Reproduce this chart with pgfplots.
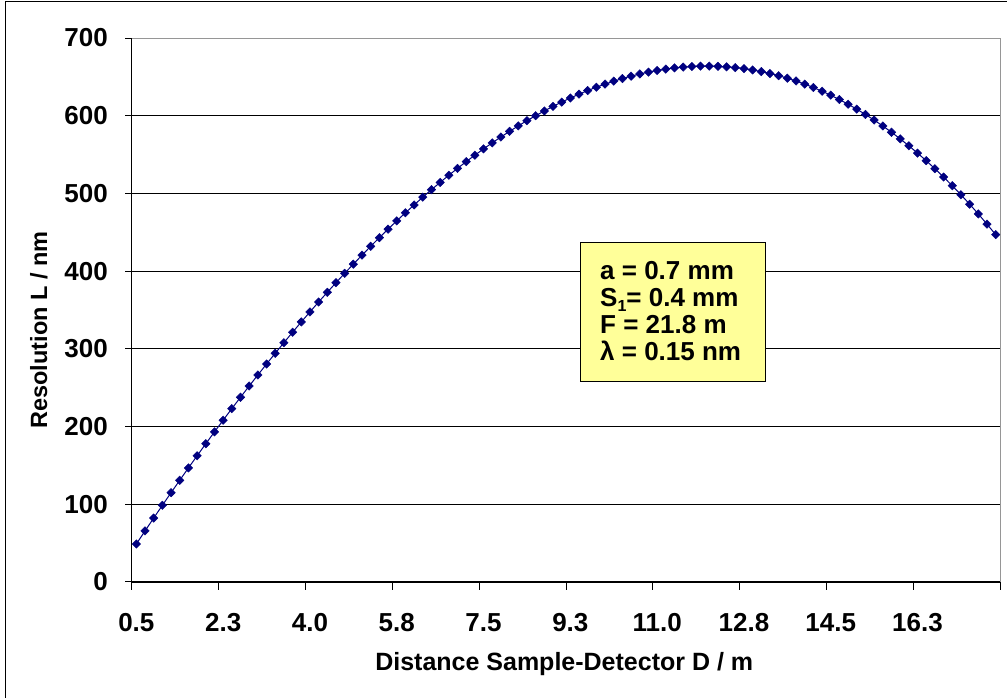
\documentclass[border=0pt]{standalone}
\usepackage{pgfplots}
\usepackage{pgfplotstable}
\pgfplotsset{compat=1.18}
\usepackage{fontspec}
\setmainfont{Liberation Sans}
\definecolor{navy}{RGB}{0,0,128}
\definecolor{boxyellow}{RGB}{255,255,153}
\definecolor{areagray}{RGB}{150,150,150}
% i = category index, D = 0.5 + 0.175 i  (m), L = resolution (nm)
\pgfplotstableread{
i L
0 48.9
1 65.7
2 82.3
3 98.7
4 114.9
5 130.9
6 146.8
7 162.4
8 177.9
9 193.1
10 208.2
11 223.1
12 237.7
13 252.2
14 266.4
15 280.5
16 294.3
17 307.9
18 321.4
19 334.6
20 347.5
21 360.3
22 372.8
23 385.1
24 397.2
25 409.0
26 420.6
27 432.0
28 443.1
29 454.0
30 464.7
31 475.1
32 485.2
33 495.2
34 504.8
35 514.2
36 523.4
37 532.2
38 540.9
39 549.2
40 557.3
41 565.1
42 572.6
43 579.9
44 586.9
45 593.6
46 600.0
47 606.1
48 612.0
49 617.5
50 622.8
51 627.7
52 632.4
53 636.7
54 640.7
55 644.4
56 647.8
57 650.9
58 653.7
59 656.1
60 658.2
61 660.0
62 661.5
63 662.6
64 663.3
65 663.8
66 663.8
67 663.5
68 662.9
69 661.9
70 660.6
71 658.9
72 656.8
73 654.3
74 651.5
75 648.3
76 644.7
77 640.7
78 636.3
79 631.5
80 626.4
81 620.8
82 614.8
83 608.4
84 601.6
85 594.4
86 586.8
87 578.7
88 570.2
89 561.3
90 551.9
91 542.1
92 531.8
93 521.1
94 509.9
95 498.3
96 486.2
97 473.6
98 460.5
99 447.0
}\resdata
\begin{document}
\begin{tikzpicture}
\useasboundingbox (0,0) rectangle (1007pt,698pt);
\fill[white] (0,0) rectangle (1007pt,698pt);
\draw[black, line width=1pt] (5pt,0pt) -- (5pt,696pt) -- (1007pt,696pt);
\begin{axis}[
  at={(132pt,116pt)}, anchor=south west,
  scale only axis, width=868pt, height=544pt,
  xmin=-0.5, xmax=99.5, ymin=0, ymax=700,
  ytick={0,100,...,700},
  xtick={0,10,...,90},
  xticklabels={0.5,2.3,4.0,5.8,7.5,9.3,11.0,12.8,14.5,16.3},
  minor xtick={-0.5,9.5,...,99.5},
  xtick pos=bottom, ytick pos=left,
  tick align=outside,
  major tick length=7pt, minor tick length=8pt,
  major x tick style={draw=none},
  minor x tick style={black, line width=1pt},
  major y tick style={black, line width=1pt},
  ymajorgrids, grid style={black, line width=0.8pt},
  axis line style={areagray, line width=1pt},
  /pgf/number format/assume math mode=true,
  ticklabel style={font=\fontsize{26}{30}\selectfont\bfseries, inner sep=0pt},
  yticklabel style={anchor=east, xshift=-17pt},
  xticklabel style={anchor=north, yshift=-24pt},
  xlabel={Distance Sample-Detector D / m},
  xlabel style={font=\fontsize{25}{30}\selectfont\bfseries, at={(axis description cs:0.498,-0.1636)}, anchor=base, inner sep=0pt},
  ylabel={Resolution L / nm},
  ylabel style={font=\fontsize{23.5}{28}\selectfont\bfseries, at={(axis description cs:-0.0979,0.463)}, anchor=base, inner sep=0pt},
  clip=false,
]
\addplot[navy, line width=1pt, mark=square*, mark size=3pt,
  mark options={rotate=45, fill=navy, draw=navy, line width=0.4pt}]
  table[x=i, y=L] {\resdata};
\draw[black, line width=1pt] (rel axis cs:0,0) -- (rel axis cs:0,1);
\draw[black, line width=1pt] (rel axis cs:0,0) -- (rel axis cs:1,0);
\end{axis}
\draw[black, line width=1pt, fill=boxyellow] (580pt,316pt) rectangle (765pt,455pt);
\begin{scope}[every node/.style={anchor=base west, inner sep=0pt, font=\fontsize{26}{30}\selectfont\bfseries}]
\node at (600pt,418pt) {a = 0.7 mm};
\node at (600pt,391.3pt) {S\raisebox{-0.35ex}{\fontsize{16}{16}\selectfont 1}= 0.4 mm};
\node at (600pt,364pt) {F = 21.8 m};
\node at (600pt,337pt) {λ = 0.15 nm};
\end{scope}
\end{tikzpicture}
\end{document}
